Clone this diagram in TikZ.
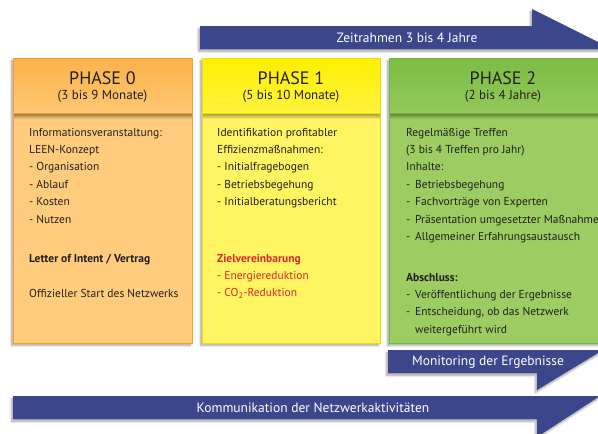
\documentclass[tikz,border=0pt]{standalone}
\usepackage{fontspec}
\setmainfont{PT Sans}
\usetikzlibrary{shadows, shadows.blur}

\definecolor{txt}{HTML}{231F20}
\definecolor{zielred}{HTML}{D9272E}
\definecolor{barblue}{HTML}{3C468A}
\definecolor{orline}{HTML}{F5A02C}
\definecolor{ortop}{HTML}{FBB24A}
\definecolor{orbot}{HTML}{FFC773}
\definecolor{orbody}{HTML}{FFCB7C}
\definecolor{yeline}{HTML}{F2DC00}
\definecolor{yetop}{HTML}{FFEF00}
\definecolor{yebot}{HTML}{FFF33E}
\definecolor{yebody}{HTML}{FFF462}
\definecolor{grline}{HTML}{74B43F}
\definecolor{grtop}{HTML}{7CBC45}
\definecolor{grbot}{HTML}{93C95A}
\definecolor{grbody}{HTML}{9CCC62}

\newcommand{\dashitem}[1]{\makebox[9pt][l]{-}#1}

\begin{document}
\begin{tikzpicture}[x=1pt, y=-1pt,
    softshadow/.style={blur shadow={shadow xshift=-1.5pt, shadow yshift=-2.5pt, shadow blur steps=6, shadow opacity=35}},
    title/.style={font=\fontsize{18}{20}\selectfont, text=txt, inner sep=0},
    span/.style={font=\fontsize{13}{15}\selectfont, text=txt, inner sep=0},
    body/.style={font=\fontsize{11.5}{17.4}\selectfont, text=txt, inner sep=0, anchor=north west, align=left},
    barlabel/.style={font=\fontsize{13.5}{15}\selectfont, text=white, inner sep=0}]
\useasboundingbox (0,0) rectangle (598,434);
\clip (0,0) rectangle (598,434);

% Zeitrahmen
\fill[barblue, softshadow] (200,26) -- (532,26) -- (532,9) -- (612,49) -- (200,49) -- cycle;
\node[barlabel] (zeit) at (407,38) {Zeitrahmen 3 bis 4 Jahre};

% phase 0
\fill[orbody, softshadow] (13,58) rectangle (192,343);
\shade[top color=ortop, bottom color=orbot] (13,58) rectangle (192,113);
\shade[top color=black!45!orbody, bottom color=orbody] (13,113) rectangle (192,119);
\draw[orline, thick] (13,58) rectangle (192,343) (13,113) -- (192,113);
\node[title] (p0title) at (102.5,78) {PHASE 0};
\node[span] (p0span) at (102.5,96) {(3 bis 9 Monate)};
\node[body] (p0info) at (29,123.8) {\strut Informationsveranstaltung:\\LEEN-Konzept\\- Organisation\\- Ablauf\\- Kosten\\- Nutzen};
\node[body, font=\fontsize{11.5}{17.4}\selectfont\bfseries] (p0loi) at (29,249.8) {\strut Letter of Intent / Vertrag};
\node[body] (p0start) at (29,284.8) {\strut Offizieller Start des Netzwerks};

% phase 1
\fill[yebody, softshadow] (202,58) rectangle (380,343);
\shade[top color=yetop, bottom color=yebot] (202,58) rectangle (380,113);
\shade[top color=black!40!yebody, bottom color=yebody] (202,113) rectangle (380,119);
\draw[yeline, thick] (202,58) rectangle (380,343) (202,113) -- (380,113);
\node[title] (p1title) at (291,78) {PHASE 1};
\node[span] (p1span) at (291,96) {(5 bis 10 Monate)};
\node[body] (p1ident) at (217,123.8) {\strut Identifikation profitabler\\Effizienzmaßnahmen:\\- Initialfragebogen\\- Betriebsbegehung\\- Initialberatungsbericht};
\node[body, text=zielred] (p1ziel) at (217,249.8) {\strut\textbf{Zielvereinbarung}\\- Energiereduktion\\- CO\textsubscript{2}-Reduktion};

% phase 2
\fill[grbody, softshadow] (389,58) rectangle (618,343);
\shade[top color=grtop, bottom color=grbot] (389,58) rectangle (618,113);
\shade[top color=black!40!grbody, bottom color=grbody] (389,113) rectangle (618,119);
\draw[grline, thick] (389,58) rectangle (618,343) (389,113) -- (618,113);
\node[title] (p2title) at (503,78) {PHASE 2};
\node[span] (p2span) at (503,96) {(2 bis 4 Jahre)};
\node[body] (p2treffen) at (406,123.8) {\strut Regelmäßige Treffen\\(3 bis 4 Treffen pro Jahr)\\Inhalte:\\\dashitem{Betriebsbegehung}\\\dashitem{Fachvorträge von Experten}\\\dashitem{Präsentation umgesetzter Maßnahmen}\\\dashitem{Allgemeiner Erfahrungsaustausch}};
\node[body] (p2abschluss) at (406,268.8) {\strut\textbf{Abschluss:}\\\dashitem{Veröffentlichung der Ergebnisse}\\\dashitem{Entscheidung, ob das Netzwerk}\\\hspace*{9pt}weitergeführt wird};

% Monitoring
\fill[barblue, softshadow] (388,350) -- (603,350) -- (537,390) -- (537,373) -- (388,373) -- cycle;
\node[barlabel] (monitor) at (488,362) {Monitoring der Ergebnisse};

% Kommunikation
\fill[barblue, softshadow] (13,396) -- (600,396) -- (537,437) -- (537,419) -- (13,419) -- cycle;
\node[barlabel] (komm) at (313,408) {Kommunikation der Netzwerkaktivitäten};
\end{tikzpicture}
\end{document}
